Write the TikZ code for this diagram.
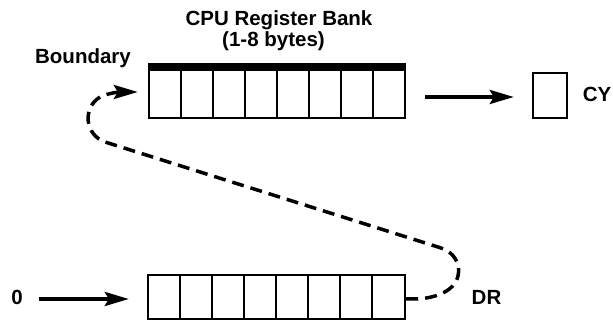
\documentclass[tikz,border=0pt]{standalone}
\usepackage{fontspec}
\setmainfont{Liberation Sans}
\usetikzlibrary{arrows.meta}
\begin{document}
\begin{tikzpicture}[x=1pt,y=-1pt,
  lbl/.style={font=\fontsize{20.5}{20.5}\selectfont\bfseries, inner sep=0pt, anchor=base},
  reg/.style={draw, line width=2.4pt, inner sep=0pt},
  divider/.style={line width=2pt},
  arr/.style={line width=3.5pt, -{Stealth[length=24pt,width=14pt,inset=4pt]}},
  dsh/.style={line width=3.5pt, dash pattern=on 12pt off 7pt,
              -{Stealth[length=24pt,width=14pt,inset=4pt]}}]
\useasboundingbox (0,0) rectangle (613,320);

% top register
\node[reg, minimum width=256pt, minimum height=54pt] (top) at (277,91) {};
\fill (top.north west) rectangle ([yshift=-8pt]top.north east);
\foreach \i in {1,...,7} \draw[divider] (149+32*\i,64) -- (149+32*\i,118);

% bottom register
\node[reg, minimum width=257pt, minimum height=44pt] (bot) at (276.5,297) {};
\foreach \i in {1,...,7} \draw[divider] (148+32*\i,275) -- (148+32*\i,319);

% carry box
\node[reg, minimum width=34pt, minimum height=45pt] (cy) at (550,95.5) {};

% labels
\node[lbl] (t1) at (279,26) {CPU Register Bank};
\node[lbl] (t2) at (273.5,47) {(1-8 bytes)};
\node[lbl] (bd) at (83,64) {Boundary};
\node[lbl] (cyl) at (597,102) {CY};
\node[lbl] (zero) at (17,305) {0};
\node[lbl] (dr) at (486.5,305) {DR};

% arrows
\draw[arr, shorten <=19pt, shorten >=18pt] (top.east |- 0,97) -- (cy.west |- 0,97);
\draw[arr, shorten <=16pt, shorten >=18pt] (zero.east |- 0,299) -- (bot.west |- 0,299);

% dashed shift path
\draw[dsh, shorten >=10pt] (bot.east |- 0,299) -- (418,299)
  .. controls (445,297) and (462,285) .. (458,265)
  .. controls (455,255) and (448,250) .. (438,247)
  -- (105,142)
  .. controls (85,135) and (82,108) .. (100,97)
  .. controls (108,93) and (120,92) .. (top.west |- 0,92);
\end{tikzpicture}
\end{document}
